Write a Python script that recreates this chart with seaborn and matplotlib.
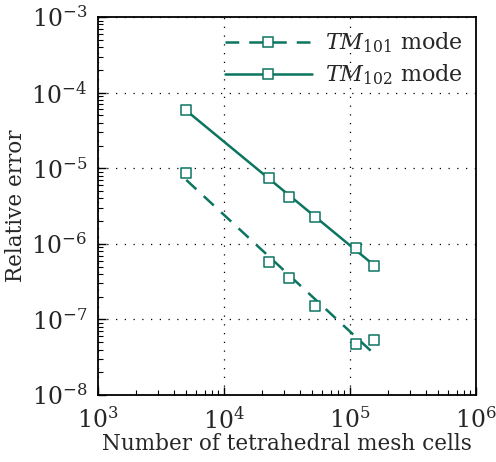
import numpy as np
import pandas as pd
import matplotlib
matplotlib.use("Agg")
import matplotlib.pyplot as plt
from matplotlib.lines import Line2D
import seaborn as sns

# ---- data ----
cells_101 = [5000, 22750, 32800, 52700, 111000, 155000]
err_101 = [8.7e-6, 5.7e-7, 3.55e-7, 1.51e-7, 4.75e-8, 5.4e-8]
cells_102 = [5000, 22750, 32800, 52700, 111000, 155000]
err_102 = [5.9e-5, 7.4e-6, 4.16e-6, 2.27e-6, 8.85e-7, 5.16e-7]

# fitted convergence lines (end points)
fit_x_101 = [5000, 155000]
fit_y_101 = [7.0e-6, 3.5e-8]
fit_x_102 = [5000, 155000]
fit_y_102 = [5.8e-5, 5.2e-7]

labels = [r"$TM_{101}$ mode", r"$TM_{102}$ mode"]
xlabel = "Number of tetrahedral mesh cells"
ylabel = "Relative error"

color = "#0b7560"

sns.set_theme(style="ticks")
plt.rcParams["font.family"] = ["DejaVu Serif"]
plt.rcParams["mathtext.fontset"] = "dejavuserif"

fig = plt.figure(figsize=(4.96, 4.62), dpi=100)
ax = fig.add_axes([0.198, 0.145, 0.762, 0.818])

fit101 = pd.DataFrame({"x": fit_x_101, "y": fit_y_101})
fit102 = pd.DataFrame({"x": fit_x_102, "y": fit_y_102})
pts101 = pd.DataFrame({"x": cells_101, "y": err_101})
pts102 = pd.DataFrame({"x": cells_102, "y": err_102})

DASH = (5.5, 4)
sns.lineplot(data=fit101, x="x", y="y", ax=ax, color=color, lw=1.8,
             legend=False)
ax.lines[-1].set_dashes(DASH)
sns.lineplot(data=fit102, x="x", y="y", ax=ax, color=color, lw=1.8, legend=False)

for d in (pts101, pts102):
    sns.scatterplot(data=d, x="x", y="y", ax=ax, marker="s", s=45,
                    facecolor="white", edgecolor=color, linewidth=1.1,
                    zorder=5, legend=False)

ax.set_xscale("log")
ax.set_yscale("log")
ax.set_xlim(1e3, 1e6)
ax.set_ylim(1e-8, 1e-3)

ax.grid(True, which="major", color="black", lw=0.9, linestyle=(0, (1, 6)))
ax.tick_params(which="both", direction="in", top=False, right=False,
               labelsize=17, color="black")
ax.tick_params(which="major", length=6, width=1)
ax.tick_params(which="minor", length=3.5, width=0.8)
ax.tick_params(axis="x", which="major", pad=9)
ax.tick_params(axis="y", which="major", pad=8)
for s in ax.spines.values():
    s.set_linewidth(1.3)
    s.set_color("black")

ax.set_xlabel(xlabel, fontsize=15.5, labelpad=-1)
ax.set_ylabel(ylabel, fontsize=15.5, labelpad=3)

handles = [
    Line2D([], [], color=color, lw=1.8, dashes=DASH, marker="s",
           markersize=6.5, markerfacecolor="white", markeredgecolor=color,
           markeredgewidth=1.1),
    Line2D([], [], color=color, lw=1.8, marker="s",
           markersize=6.5, markerfacecolor="white", markeredgecolor=color,
           markeredgewidth=1.1),
]
ax.legend(handles, labels, loc="upper right", frameon=False, fontsize=16,
          handlelength=3.9, borderaxespad=0.2, labelspacing=0.35,
          handletextpad=0.6)

fig.savefig("out.png", dpi=100)
